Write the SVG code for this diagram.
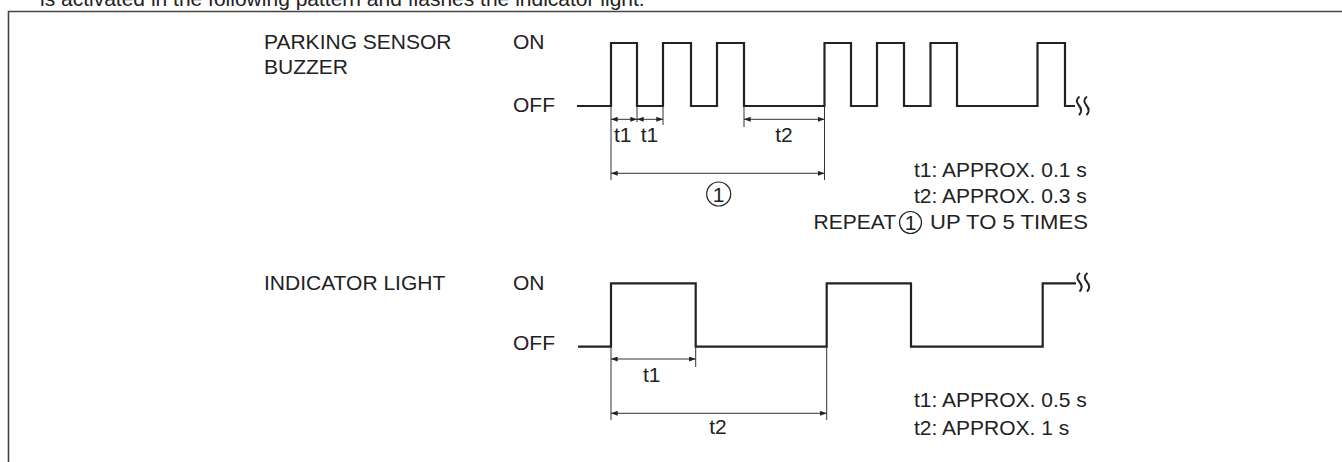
<svg xmlns="http://www.w3.org/2000/svg" width="1342" height="462" viewBox="0 0 1342 462">
<style>
text{font-family:"Liberation Sans",Arial,sans-serif;font-size:21px;fill:#222}
.wave{fill:none;stroke:#222;stroke-width:2.2;stroke-linejoin:miter}
.ext{fill:none;stroke:#333;stroke-width:1}
.dim{fill:none;stroke:#333;stroke-width:1;marker-start:url(#arr);marker-end:url(#arr)}
.brk{fill:none;stroke:#222;stroke-width:2}
.mid{text-anchor:middle}
</style>
<defs>
<marker id="arr" viewBox="0 0 8 6" refX="8" refY="3" markerWidth="7" markerHeight="5" markerUnits="userSpaceOnUse" orient="auto-start-reverse">
<path d="M0,0 L8,3 L0,6 z" fill="#222"/>
</marker>
<path id="squig" d="M2.5 0 C-1.5 3 -0.5 6 2 9 C4.5 12 5.5 15 2 18.5"/>
</defs>
<rect width="1342" height="462" fill="#fff"/>
<g id="frame">
<text x="40" y="5.5" font-size="20.7">is activated in the following pattern and flashes the indicator light.</text>
<path d="M1342 11.5 H8.5 V462" fill="none" stroke="#444" stroke-width="1.6"/>
</g>
<g id="buzzer-labels">
<text x="264" y="48.5">PARKING SENSOR</text>
<text x="264" y="74">BUZZER</text>
<text x="513" y="48.5">ON</text>
<text x="513" y="112">OFF</text>
</g>
<g id="buzzer-wave">
<path class="wave" d="M577 106 H611 V43 H637 V106 H663 V43 H691 V106 H717 V43 H744 V106 H824.5 V43 H851 V106 H877 V43 H904 V106 H930.5 V43 H957 V106 H1037.5 V43 H1065 V106 H1075"/>
<use href="#squig" class="brk" x="1077" y="96.5"/>
<use href="#squig" class="brk" x="1084.5" y="96.5"/>
</g>
<g id="indicator-labels">
<text x="264" y="290">INDICATOR LIGHT</text>
<text x="513" y="290">ON</text>
<text x="513" y="350">OFF</text>
</g>
<g id="indicator-wave">
<path class="wave" d="M578 346.7 H611 V283.3 H695.7 V346.7 H826.7 V283.3 H911 V346.7 H1042.7 V283.3 H1076"/>
<use href="#squig" class="brk" x="1077.5" y="273"/>
<use href="#squig" class="brk" x="1085" y="273"/>
</g>
<g id="connectors">
<path class="ext" d="M611 106 V180 M637 106 V122 M663 106 V125 M744 106 V127 M824.5 106 V180"/>
<line class="dim" x1="611" y1="119.3" x2="637" y2="119.3"/>
<line class="dim" x1="637" y1="119.3" x2="663" y2="119.3"/>
<line class="dim" x1="744" y1="119.3" x2="824.5" y2="119.3"/>
<line class="dim" x1="611" y1="173.3" x2="824.5" y2="173.3"/>
<path class="ext" d="M611 347 V420 M695.7 347 V367 M826.7 347 V420"/>
<line class="dim" x1="611" y1="359" x2="695.7" y2="359"/>
<line class="dim" x1="611" y1="413.3" x2="826.7" y2="413.3"/>
</g>
<g id="buzzer-dim-labels">
<text class="mid" x="622.7" y="141.7">t1</text>
<text class="mid" x="649.5" y="141.7">t1</text>
<text class="mid" x="784" y="141.7">t2</text>
<circle cx="718.7" cy="194" r="12" fill="none" stroke="#222" stroke-width="1.2"/>
<text class="mid" x="718.7" y="201.5">1</text>
</g>
<g id="buzzer-notes">
<text x="914" y="177">t1: APPROX. 0.1 s</text>
<text x="914" y="203">t2: APPROX. 0.3 s</text>
<text x="896" y="229" text-anchor="end">REPEAT</text>
<circle cx="910.5" cy="222.5" r="11" fill="none" stroke="#222" stroke-width="1.2"/>
<text class="mid" x="910.5" y="229.5">1</text>
<text x="930" y="229" textLength="158" lengthAdjust="spacingAndGlyphs">UP TO 5 TIMES</text>
</g>
<g id="indicator-dim-labels">
<text class="mid" x="651.7" y="381.7">t1</text>
<text class="mid" x="718" y="434">t2</text>
</g>
<g id="indicator-notes">
<text x="914" y="406.7">t1: APPROX. 0.5 s</text>
<text x="914" y="435">t2: APPROX. 1 s</text>
</g>
</svg>
